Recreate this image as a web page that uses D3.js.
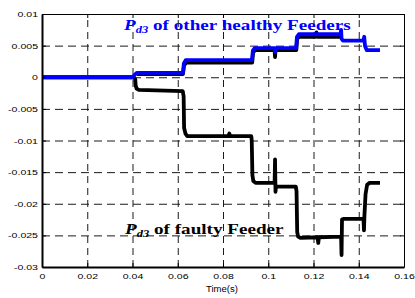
<!DOCTYPE html>
<html>
<head>
<meta charset="utf-8">
<script src="https://cdn.jsdelivr.net/npm/d3@7"></script>
<style>
html,body{margin:0;padding:0;background:#fff;}
svg{display:block;}
</style>
</head>
<body>
<svg id="chart" width="415" height="298"></svg>
<script>
// ---- data ----
const xTicks = [0, 0.02, 0.04, 0.06, 0.08, 0.1, 0.12, 0.14, 0.16];
const xTickLabels = ["0", "0.02", "0.04", "0.06", "0.08", "0.1", "0.12", "0.14", "0.16"];
const yTicks = [0.01, 0.005, 0, -0.005, -0.01, -0.015, -0.02, -0.025, -0.03];
const yTickLabels = ["0.01", "0.005", "0", "-0.005", "-0.01", "-0.015", "-0.02", "-0.025", "-0.03"];

const faultyT = [0, 0.0405, 0.0412, 0.0414, 0.0418, 0.0428, 0.0622, 0.0626, 0.0628, 0.0634, 0.0642,
  0.0824, 0.0828, 0.0832, 0.0925, 0.0927, 0.0930, 0.0934, 0.0944, 0.1028, 0.1030, 0.1032, 0.1034,
  0.1122, 0.1125, 0.1128, 0.1132, 0.1142, 0.1218, 0.1221, 0.1224, 0.1322, 0.1324, 0.1326, 0.1332,
  0.1421, 0.1423, 0.1425, 0.1430, 0.1437, 0.1448, 0.1494];
const faultyV = [0, 0, -0.0003, -0.0013, -0.0018, -0.0020, -0.0022, -0.0030, -0.0080, -0.0089, -0.0093,
  -0.0093, -0.0089, -0.0093, -0.0093, -0.0100, -0.0155, -0.0164, -0.0167, -0.0167, -0.0130, -0.0181, -0.0173,
  -0.0173, -0.0180, -0.0245, -0.0252, -0.0254, -0.0253, -0.0262, -0.0253, -0.0252, -0.0281, -0.0225, -0.0224,
  -0.0224, -0.0242, -0.0220, -0.0185, -0.0170, -0.0167, -0.0167];

const healthyT = [0, 0.0402, 0.0410, 0.0420, 0.0623, 0.0627, 0.0635, 0.0928, 0.0932, 0.0940, 0.1028,
  0.1030, 0.1032, 0.1123, 0.1127, 0.1135, 0.1320, 0.1322, 0.1324, 0.1330, 0.1421, 0.1424, 0.1428, 0.1435, 0.1494];
const healthyV = [0, 0, 0.0004, 0.0007, 0.0007, 0.0022, 0.0027, 0.0027, 0.0042, 0.0046, 0.0046,
  0.0040, 0.0046, 0.0046, 0.0064, 0.0068, 0.0068, 0.0075, 0.0061, 0.0058, 0.0058, 0.0064, 0.0049, 0.0043, 0.0043];

const healthy2T = [0.0420, 0.0623, 0.0628, 0.0637, 0.0929, 0.0933, 0.0942, 0.1028, 0.1030, 0.1032,
  0.1124, 0.1128, 0.1137, 0.1210, 0.1213, 0.1216, 0.1320];
const healthy2V = [0.0005, 0.0005, 0.0019, 0.0023, 0.0023, 0.0039, 0.0043, 0.0043, 0.0032, 0.0043,
  0.0043, 0.0061, 0.0064, 0.0064, 0.0071, 0.0064, 0.0064];

// ---- layout ----
const L = 42, R = 404, T = 14, B = 267;
const SX = 1.32; // horizontal text stretch

const svg = d3.select("#chart");
const x = d3.scaleLinear().domain([0, 0.16]).range([L, R]);
const y = d3.scaleLinear().domain([-0.03, 0.01]).range([B, T]);

// grid
const gx = svg.append("g").attr("transform", `translate(0,${B})`)
  .call(d3.axisBottom(x).tickValues(xTicks).tickSize(-(B - T)).tickFormat(""));
gx.select(".domain").remove();
gx.selectAll("line").attr("stroke", "#1a1a1a").attr("stroke-width", 1).attr("stroke-dasharray", "7,5");

const gy = svg.append("g").attr("transform", `translate(${L},0)`)
  .call(d3.axisLeft(y).tickValues(yTicks).tickSize(-(R - L)).tickFormat(""));
gy.select(".domain").remove();
gy.selectAll("line").attr("stroke", "#1a1a1a").attr("stroke-width", 1).attr("stroke-dasharray", "8,5");

// lines
const line = d3.line().x(d => x(d[0])).y(d => y(d[1]));
const zipped = (a, b) => a.map((t, i) => [t, b[i]]);

svg.append("path").datum(zipped(healthy2T, healthy2V)).attr("d", line)
  .attr("fill", "none").attr("stroke", "#000").attr("stroke-width", 3.8).attr("stroke-linejoin", "round");
svg.append("path").datum(zipped(faultyT, faultyV)).attr("d", line)
  .attr("fill", "none").attr("stroke", "#000").attr("stroke-width", 3.8).attr("stroke-linejoin", "round");
svg.append("path").datum(zipped(healthyT, healthyV)).attr("d", line)
  .attr("fill", "none").attr("stroke", "#0000ff").attr("stroke-width", 3.8).attr("stroke-linejoin", "round");

// axes
const axB = svg.append("g").attr("transform", `translate(0,${B})`)
  .call(d3.axisBottom(x).tickValues(xTicks).tickSizeInner(-4).tickSizeOuter(0).tickPadding(6)
    .tickFormat((d, i) => xTickLabels[i]));
const axL = svg.append("g").attr("transform", `translate(${L},0)`)
  .call(d3.axisLeft(y).tickValues(yTicks).tickSizeInner(-4).tickSizeOuter(0).tickPadding(4)
    .tickFormat((d, i) => yTickLabels[i]));
const axT = svg.append("g").attr("transform", `translate(0,${T})`)
  .call(d3.axisTop(x).tickValues(xTicks).tickSizeInner(-4).tickSizeOuter(0).tickFormat(""));
const axR = svg.append("g").attr("transform", `translate(${R},0)`)
  .call(d3.axisRight(y).tickValues(yTicks).tickSizeInner(-4).tickSizeOuter(0).tickFormat(""));

[axB, axL, axT, axR].forEach(a => {
  a.selectAll("line").attr("stroke", "#000");
  a.select(".domain").attr("stroke", "#000");
  a.selectAll("text").attr("font-family", "'Liberation Sans', Arial, sans-serif")
    .attr("font-size", 8).attr("fill", "#000");
});
axB.select(".domain").attr("stroke-width", 2);
axL.select(".domain").attr("stroke-width", 2);
axB.selectAll("text").attr("transform", `scale(${SX},1)`);
axL.selectAll("text").attr("x", -4 / SX).attr("transform", `scale(${SX},1)`);

// x label
svg.append("text").attr("transform", `translate(222,292) scale(${SX * 0.85},1)`)
  .attr("text-anchor", "middle").attr("font-family", "'Liberation Sans', Arial, sans-serif")
  .attr("font-size", 8.5).text("Time(s)");

// annotations
function label(px, py, color, rest) {
  const t = svg.append("text").attr("transform", `translate(${px},${py}) scale(${SX},1)`)
    .attr("font-family", "'Liberation Serif', 'Times New Roman', serif")
    .attr("font-weight", "bold").attr("font-size", 14.5).attr("fill", color);
  t.append("tspan").attr("font-style", "italic").text("P");
  t.append("tspan").attr("font-style", "italic").attr("font-size", 9.5).attr("dy", 3).text("d3");
  t.append("tspan").attr("dy", -3).text(rest);
}
label(124, 30, "#0000ff", " of other healthy Feeders");
label(125, 234, "#000", " of faulty Feeder");
</script>
</body>
</html>
